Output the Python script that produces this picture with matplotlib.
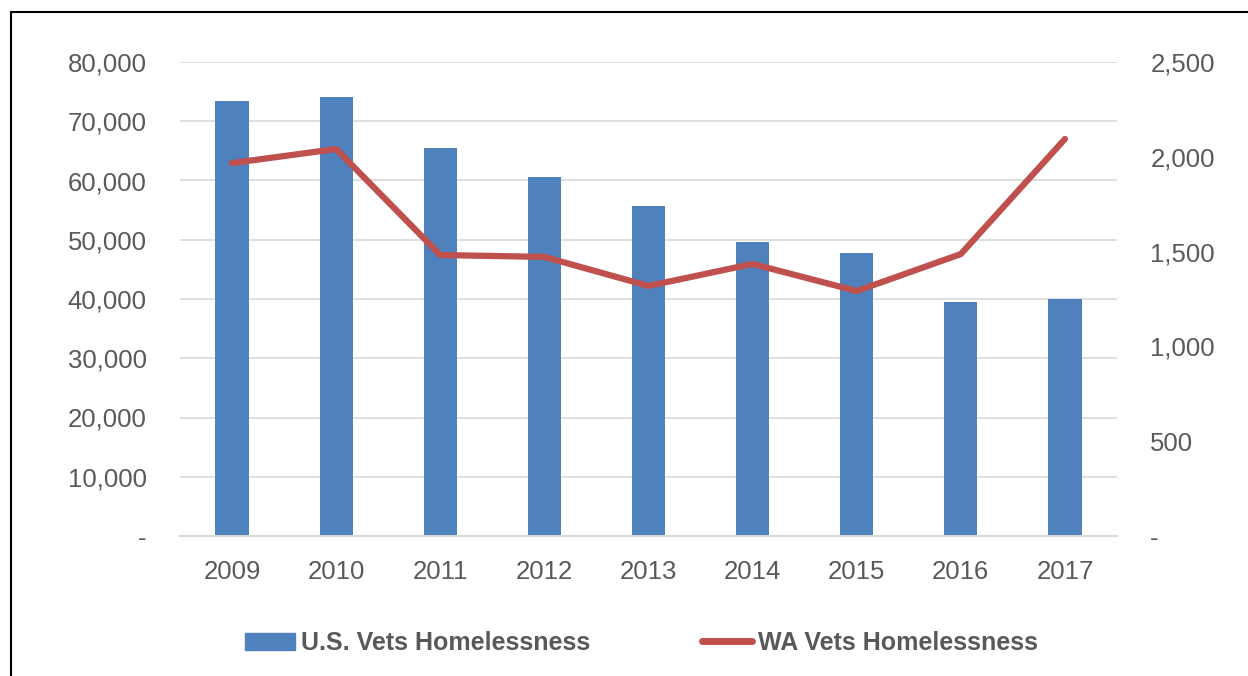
import matplotlib.pyplot as plt
from matplotlib.patches import Rectangle
from matplotlib.lines import Line2D
from matplotlib.ticker import FuncFormatter
from matplotlib import font_manager

years = ['2009', '2010', '2011', '2012', '2013', '2014', '2015', '2016', '2017']
us_vets = [73367, 74087, 65455, 60579, 55619, 49689, 47725, 39471, 40056]
wa_vets = [1967, 2041, 1482, 1472, 1319, 1435, 1292, 1487, 2094]

names = {f.name for f in font_manager.fontManager.ttflist}
family = 'Liberation Sans Narrow' if 'Liberation Sans Narrow' in names else 'Liberation Sans'
plt.rcParams['font.family'] = [family, 'DejaVu Sans']

grey = '#595959'
bar_col = '#4F81BD'
line_col = '#C0504D'


def fmt(v, pos):
    return '-' if v == 0 else f'{v:,.0f}'


fig = plt.figure(figsize=(12.48, 6.76), dpi=100)
ax = fig.add_axes([180 / 1248, 1 - 536 / 676, (1117 - 180) / 1248, (536 - 62) / 676])
ax2 = ax.twinx()

x = range(len(years))
ax.bar(x, us_vets, width=0.32, color=bar_col, zorder=2)
ax2.plot(x, wa_vets, color=line_col, lw=4.5, solid_capstyle='round', zorder=3)

ax.set_xlim(-0.5, len(years) - 0.5)
ax.set_ylim(0, 80000)
ax2.set_ylim(0, 2500)
ax.set_yticks(range(0, 80001, 10000))
ax2.set_yticks(range(0, 2501, 500))
ax.yaxis.set_major_formatter(FuncFormatter(fmt))
ax2.yaxis.set_major_formatter(FuncFormatter(fmt))
ax.set_xticks(list(x))
ax.set_xticklabels(years)

ax.grid(axis='y', color='#D9D9D9', lw=1.2, zorder=0)
ax.set_axisbelow(True)
for a in (ax, ax2):
    for s in a.spines.values():
        s.set_visible(False)
    a.tick_params(length=0, colors=grey, labelsize=18.5)
ax.spines['bottom'].set_visible(True)
ax.spines['bottom'].set_color('#D9D9D9')
ax.spines['bottom'].set_linewidth(1.5)
ax.tick_params(axis='y', pad=24)
ax2.tick_params(axis='y', pad=24)
ax.tick_params(axis='x', pad=17)

handles = [Rectangle((0, 0), 1, 1, color=bar_col),
           Line2D([0], [0], color=line_col, lw=5, solid_capstyle='round')]
leg = fig.legend(handles, ['U.S. Vets Homelessness', 'WA Vets Homelessness'],
                 loc='center', bbox_to_anchor=(0.514, 1 - 643 / 676), ncol=2,
                 frameon=False, handlelength=2.0, handletextpad=0.25,
                 columnspacing=4.45, prop={'size': 18, 'weight': 'bold'})
for t in leg.get_texts():
    t.set_color(grey)

# outer frame around the figure box
fig.patches.append(Rectangle((11 / 1248, -0.1), 1.2, 1 - 12 / 676 + 0.1,
                             transform=fig.transFigure, fill=False,
                             edgecolor='black', lw=1.5))

fig.savefig('out.png', dpi=100)
